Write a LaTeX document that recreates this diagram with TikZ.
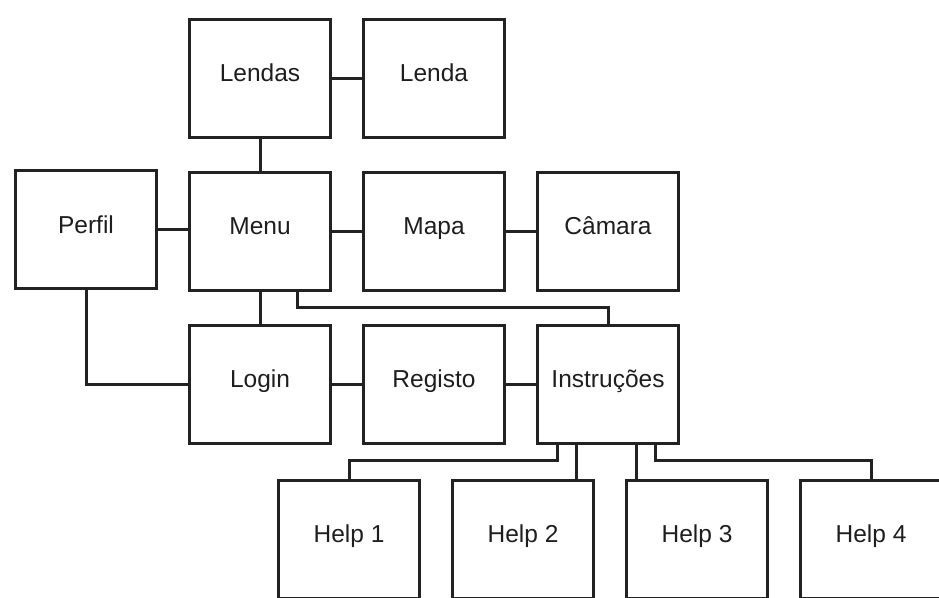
\documentclass[tikz,border=0pt]{standalone}
\usepackage{fontspec}
\setmainfont{Liberation Sans}
\usetikzlibrary{positioning}
\definecolor{MapInk}{HTML}{222222}
\definecolor{MapText}{HTML}{1E1E1E}
\begin{document}
\begin{tikzpicture}[
    x=1pt,y=-1pt,
    box/.style={draw=MapInk,line width=3pt,minimum width=141pt,minimum height=118pt,
      text=MapText,text height=0.72em,text depth=0pt,font=\fontsize{24.5}{28}\selectfont},
    link/.style={draw=MapInk,line width=3pt},
    node distance=32pt and 30pt
  ]
    \useasboundingbox (0,0) rectangle (939,597);
    \clip (0,0) rectangle (939,597);
    % main rows
    \node[box] (menu) at (260,231) {Menu};
    \node[box,above=of menu] (lendas) {Lendas};
    \node[box,right=of lendas] (lenda) {Lenda};
    \node[box,left=of menu,yshift=1.5pt] (perfil) {Perfil};
    \node[box,right=of menu] (mapa) {Mapa};
    \node[box,right=of mapa] (camara) {Câmara};
    \node[box,below=of menu] (login) {Login};
    \node[box,right=of login] (registo) {Registo};
    \node[box,right=of registo] (instr) {Instruções};
    % help pages
    \node[box] (help1) at (349,539) {Help 1};
    \node[box,right=of help1] (help2) {Help 2};
    \node[box,right=of help2] (help3) {Help 3};
    \node[box,right=of help3] (help4) {Help 4};
    % links
    \draw[link] (lendas) -- (lenda);
    \draw[link] (lendas) -- (menu);
    \draw[link] (perfil.east) -- (perfil.east -| menu.west);
    \draw[link] (menu) -- (mapa);
    \draw[link] (mapa) -- (camara);
    \draw[link] (menu) -- (login);
    \draw[link] (perfil.south) |- (login.west);
    \draw[link] (login) -- (registo);
    \draw[link] (registo) -- (instr);
    \draw[link] ([xshift=37pt]menu.south) -- ++(0,16) -| (instr.north);
    \draw[link] ([xshift=-51pt]instr.south) -- ++(0,16) -| (help1.north);
    \draw[link] ([xshift=-32pt]instr.south) -- ([xshift=-32pt]instr.south |- help2.north);
    \draw[link] ([xshift=28pt]instr.south) -- ([xshift=28pt]instr.south |- help3.north);
    \draw[link] ([xshift=47pt]instr.south) -- ++(0,16) -| (help4.north);
  \end{tikzpicture}
\end{document}
